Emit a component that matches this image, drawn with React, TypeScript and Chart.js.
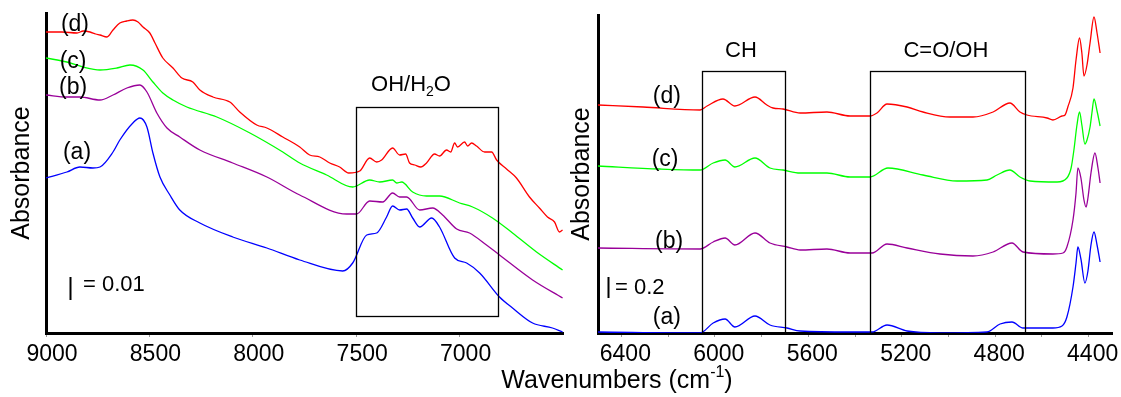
import { useEffect, useRef } from 'react';
import { Chart, registerables } from 'chart.js';

Chart.register(...registerables);

const FONT = '"Liberation Sans", Arial, sans-serif';

// ---------- Left panel: 9000–6500 cm-1 (offset-stacked absorbance, arbitrary units; 22 units = 0.01)
const leftWaveD = [9000, 8923, 8850, 8820, 8787, 8760, 8739, 8705, 8676, 8643, 8610, 8580, 8555, 8531, 8498, 8473, 8435, 8386, 8343, 8290, 8256, 8193, 8111, 8063, 7981, 7932, 7855, 7773, 7725, 7676, 7628, 7580, 7536, 7483, 7435, 7401, 7377, 7324, 7290, 7261, 7242, 7217, 7188, 7160, 7121, 7097, 7063, 7043, 7024, 7010, 6976, 6961, 6942, 6918, 6879, 6845, 6821, 6773, 6725, 6662, 6614, 6575, 6541, 6517, 6502];
const leftAbsD = [301, 301, 300, 302, 301, 299, 298, 296, 303, 310, 312, 313, 311, 306, 300, 290, 275, 265, 255, 251, 243, 236, 231, 221, 208, 205, 196, 186, 178, 176, 170, 166, 160, 162, 175, 171, 173, 185, 178, 179, 170, 168, 166, 170, 179, 177, 183, 181, 190, 186, 191, 187, 190, 187, 181, 181, 173, 164, 155, 136, 125, 116, 111, 101, 103];

const leftWaveC = [9000, 8899, 8821, 8739, 8657, 8594, 8531, 8483, 8435, 8386, 8319, 8174, 8014, 7855, 7773, 7643, 7517, 7435, 7386, 7324, 7304, 7280, 7227, 7160, 7097, 7000, 6937, 6841, 6744, 6628, 6502];
const leftAbsC = [275, 271, 266, 263, 265, 268, 263, 251, 240, 233, 226, 216, 200, 181, 170, 158, 146, 153, 151, 153, 150, 151, 141, 137, 137, 130, 126, 115, 100, 81, 63];

const leftWaveB = [9000, 8899, 8836, 8739, 8676, 8609, 8546, 8512, 8464, 8415, 8353, 8256, 8097, 7932, 7773, 7546, 7498, 7435, 7372, 7324, 7290, 7256, 7193, 7130, 7082, 7014, 6952, 6870, 6807, 6647, 6502];
const leftAbsB = [238, 236, 236, 233, 238, 245, 248, 241, 220, 205, 196, 183, 170, 156, 138, 119, 119, 132, 131, 140, 136, 136, 123, 125, 118, 104, 100, 88, 78, 53, 35];

const leftWaveA = [9000, 8899, 8836, 8773, 8739, 8676, 8643, 8580, 8546, 8512, 8483, 8449, 8401, 8353, 8256, 8097, 7932, 7773, 7565, 7517, 7449, 7401, 7353, 7324, 7290, 7256, 7227, 7193, 7135, 7097, 7024, 6966, 6903, 6807, 6744, 6647, 6551, 6502];
const leftAbsA = [155, 161, 166, 165, 166, 181, 193, 210, 215, 206, 180, 156, 138, 123, 110, 96, 85, 73, 62, 70, 98, 100, 116, 127, 123, 124, 115, 106, 115, 106, 75, 70, 60, 36, 25, 10, 5, 1];

// ---------- Right panel: 6500–4300 cm-1 (offset-stacked absorbance, arbitrary units; 21 units = 0.2)
const rightWaveD = [6500, 6307, 6063, 6033, 5965, 5914, 5828, 5777, 5751, 5708, 5635, 5520, 5421, 5336, 5306, 5263, 5177, 5109, 4993, 4895, 4809, 4737, 4694, 4664, 4578, 4553, 4514, 4501, 4489, 4467, 4454, 4439, 4429, 4420, 4407, 4394, 4377, 4364, 4351];
const rightAbsD = [228, 226, 223, 227, 234, 227, 236, 228, 225, 224, 220, 221, 217, 217, 220, 229, 226, 221, 216, 216, 221, 230, 221, 218, 215, 213, 217, 218, 226, 245, 273, 295, 280, 257, 268, 290, 316, 300, 280];

const rightWaveC = [6500, 6235, 6063, 6007, 5956, 5914, 5828, 5764, 5708, 5635, 5520, 5421, 5336, 5259, 5109, 4963, 4835, 4792, 4737, 4694, 4651, 4535, 4493, 4475, 4463, 4450, 4439, 4429, 4416, 4407, 4394, 4386, 4377, 4364, 4351];
const rightAbsC = [167, 164, 163, 170, 173, 166, 175, 165, 163, 160, 160, 156, 156, 165, 158, 152, 153, 158, 163, 156, 152, 151, 155, 165, 183, 208, 221, 208, 189, 193, 206, 220, 234, 222, 207];

const rightWaveB = [6500, 6063, 6007, 5956, 5914, 5828, 5764, 5691, 5635, 5520, 5421, 5327, 5263, 5177, 5036, 4895, 4809, 4728, 4681, 4553, 4510, 4493, 4467, 4454, 4446, 4433, 4420, 4411, 4403, 4390, 4373, 4360, 4351];
const rightAbsB = [85, 84, 91, 95, 88, 100, 90, 86, 83, 84, 80, 80, 89, 85, 79, 77, 81, 90, 81, 79, 80, 86, 113, 140, 165, 155, 133, 126, 135, 160, 180, 165, 150];

const rightWaveA = [6500, 6063, 6007, 5956, 5914, 5828, 5764, 5691, 5635, 5421, 5327, 5263, 5177, 5036, 4835, 4779, 4728, 4681, 4553, 4514, 4493, 4467, 4454, 4446, 4433, 4416, 4403, 4390, 4377, 4364, 4351];
const rightAbsA = [1, 0, 10, 14, 6, 17, 8, 5, 2, 1, 1, 8, 2, 0, 1, 9, 11, 5, 5, 7, 16, 46, 70, 86, 74, 50, 62, 88, 101, 88, 71];

// ---------- Ticks and labels
const leftTicks = [9000, 8500, 8000, 7500, 7000];
const rightTicks = [6400, 6200, 6000, 5800, 5600, 5400, 5200, 5000, 4800, 4600, 4400];
const rightLabelTicks = [6400, 6000, 5600, 5200, 4800, 4400];
const curveLabels = ['(a)', '(b)', '(c)', '(d)'];
const leftScaleText = '= 0.01';
const rightScaleText = '= 0.2';

const COLORS = { a: '#0000ff', b: '#990099', c: '#00ff00', d: '#ff0000' };

type Part = { t: string; sub?: boolean; sup?: boolean };

function drawParts(ctx: CanvasRenderingContext2D, parts: Part[], x: number, cy: number, size: number, align: 'center' | 'left') {
  const small = Math.round(size * 0.65);
  const widths = parts.map((p) => {
    ctx.font = `${p.sub || p.sup ? small : size}px ${FONT}`;
    return ctx.measureText(p.t).width;
  });
  const total = widths.reduce((s, w) => s + w, 0);
  let cx = align === 'center' ? x - total / 2 : x;
  ctx.textBaseline = 'middle';
  ctx.textAlign = 'left';
  parts.forEach((p, i) => {
    ctx.font = `${p.sub || p.sup ? small : size}px ${FONT}`;
    const dy = p.sub ? size * 0.32 : p.sup ? -size * 0.33 : 0;
    ctx.fillText(p.t, cx, cy + dy);
    cx += widths[i];
  });
}

const notesPlugin = {
  id: 'notes',
  afterDatasetsDraw(chart: any, _args: any, opts: any) {
    const { ctx } = chart;
    const xs = chart.scales.x;
    const ys = chart.scales.y;
    const X = (v: number) => xs.getPixelForValue(v);
    const Y = (v: number) => ys.getPixelForValue(v);
    ctx.save();
    ctx.fillStyle = '#000';
    ctx.strokeStyle = '#000';
    ctx.lineWidth = 1.3;
    for (const b of opts.boxes || []) {
      const x0 = X(b.x0), x1 = X(b.x1), y0 = Y(b.y0), y1 = Y(b.y1);
      ctx.strokeRect(Math.round(x0) + 0.5, Math.round(y1) + 0.5, Math.round(x1 - x0), Math.round(y0 - y1));
    }
    for (const t of opts.texts || []) {
      drawParts(ctx, t.parts, X(t.x), Y(t.y), t.size, t.align || 'center');
    }
    if (opts.bar) {
      const b = opts.bar;
      ctx.lineWidth = 2;
      ctx.beginPath();
      ctx.moveTo(Math.round(X(b.x)) + 0.5, Y(b.y0));
      ctx.lineTo(Math.round(X(b.x)) + 0.5, Y(b.y1));
      ctx.stroke();
      drawParts(ctx, [{ t: b.text }], X(b.tx), Y(b.ty), b.size, 'left');
    }
    if (opts.xTitle) {
      const t = opts.xTitle;
      drawParts(ctx, t.parts, t.px, t.py, t.size, 'center');
    }
    ctx.restore();
  },
};

function pts(w: number[], a: number[]) {
  return w.map((x, i) => ({ x, y: a[i] }));
}

function ds(w: number[], a: number[], color: string) {
  return {
    data: pts(w, a),
    borderColor: color,
    borderWidth: 1.3,
    pointRadius: 0,
    fill: false,
    cubicInterpolationMode: 'monotone' as const,
  };
}

function xScale(min: number, max: number, ticks: number[], labelTicks: number[], labelOffset: number) {
  return {
    type: 'linear' as const,
    reverse: true,
    min,
    max,
    afterBuildTicks: (s: any) => {
      s.ticks = ticks.map((v) => ({ value: v }));
    },
    afterFit: (s: any) => {
      s.height = 64;
    },
    ticks: {
      autoSkip: false,
      maxRotation: 0,
      color: '#000',
      padding: 4,
      labelOffset,
      font: { family: FONT, size: 23 },
      callback: (v: any) => (labelTicks.includes(Number(v)) ? String(v) : ''),
    },
    grid: { display: true, drawOnChartArea: false, drawTicks: true, tickLength: 4, color: '#999', lineWidth: 1 },
    border: { display: true, color: '#000', width: 3 },
  };
}

function yScale(max: number, width: number) {
  return {
    type: 'linear' as const,
    min: 0,
    max,
    ticks: { display: false },
    grid: { display: false },
    border: { display: true, color: '#000', width: 3 },
    title: {
      display: true,
      text: 'Absorbance',
      color: '#000',
      font: { family: FONT, size: 25 },
      padding: { top: 7, bottom: 0 },
    },
    afterFit: (s: any) => {
      s.width = width;
    },
  };
}

const label = (text: string, x: number, y: number) => ({ parts: [{ t: text }], x, y, size: 23 });

function leftConfig(): any {
  return {
    type: 'line',
    data: {
      datasets: [
        ds(leftWaveD, leftAbsD, COLORS.d),
        ds(leftWaveC, leftAbsC, COLORS.c),
        ds(leftWaveB, leftAbsB, COLORS.b),
        ds(leftWaveA, leftAbsA, COLORS.a),
      ],
    },
    options: {
      animation: false,
      responsive: false,
      devicePixelRatio: 1,
      events: [],
      layout: { padding: { left: 0, top: 13, right: 558, bottom: 0 } },
      scales: {
        x: xScale(6500, 9000, leftTicks, leftTicks, 6),
        y: yScale(320, 46),
      },
      plugins: {
        legend: { display: false },
        tooltip: { enabled: false },
        notes: {
          boxes: [{ x0: 7500, x1: 6815, y0: 17, y1: 226 }],
          texts: [
            { parts: [{ t: 'OH/H' }, { t: '2', sub: true }, { t: 'O' }], x: 7235, y: 248, size: 22 },
            label(curveLabels[3], 8860, 308),
            label(curveLabels[2], 8869, 271),
            label(curveLabels[1], 8869, 245),
            label(curveLabels[0], 8850, 180),
          ],
          bar: { x: 8884, y0: 33, y1: 56, text: leftScaleText, tx: 8821, ty: 48, size: 22 },
        },
      },
    },
    plugins: [notesPlugin],
  };
}

function rightConfig(): any {
  return {
    type: 'line',
    data: {
      datasets: [
        ds(rightWaveD, rightAbsD, COLORS.d),
        ds(rightWaveC, rightAbsC, COLORS.c),
        ds(rightWaveB, rightAbsB, COLORS.b),
        ds(rightWaveA, rightAbsA, COLORS.a),
      ],
    },
    options: {
      animation: false,
      responsive: false,
      devicePixelRatio: 1,
      events: [],
      layout: { padding: { left: 560, top: 15, right: 9, bottom: 0 } },
      scales: {
        x: xScale(4300, 6500, rightTicks, rightLabelTicks, 4),
        y: yScale(318, 38),
      },
      plugins: {
        legend: { display: false },
        tooltip: { enabled: false },
        notes: {
          boxes: [
            { x0: 6053, x1: 5699, y0: 0, y1: 262 },
            { x0: 5335, x1: 4673, y0: 0, y1: 262 },
          ],
          texts: [
            { parts: [{ t: 'CH' }], x: 5888, y: 282, size: 22 },
            { parts: [{ t: 'C=O/OH' }], x: 5011, y: 282, size: 22 },
            label(curveLabels[3], 6205, 236),
            label(curveLabels[2], 6213, 173),
            label(curveLabels[1], 6196, 91),
            label(curveLabels[0], 6205, 15),
          ],
          bar: { x: 6457, y0: 35, y1: 56, text: rightScaleText, tx: 6427, ty: 45, size: 22 },
          xTitle: {
            parts: [{ t: 'Wavenumbers (cm' }, { t: '-1', sup: true }, { t: ')' }],
            px: 617,
            py: 381,
            size: 25,
          },
        },
      },
    },
    plugins: [notesPlugin],
  };
}

export default function App() {
  const leftRef = useRef<HTMLCanvasElement>(null);
  const rightRef = useRef<HTMLCanvasElement>(null);
  useEffect(() => {
    const left = new Chart(leftRef.current as HTMLCanvasElement, leftConfig());
    const right = new Chart(rightRef.current as HTMLCanvasElement, rightConfig());
    return () => {
      left.destroy();
      right.destroy();
    };
  }, []);
  return (
    <div style={{ position: 'fixed', left: 0, top: 0, width: 1121, height: 397, background: '#fff' }}>
      <canvas ref={leftRef} width={1121} height={397} style={{ position: 'absolute', left: 0, top: 0 }} />
      <canvas ref={rightRef} width={1121} height={397} style={{ position: 'absolute', left: 0, top: 0 }} />
    </div>
  );
}
